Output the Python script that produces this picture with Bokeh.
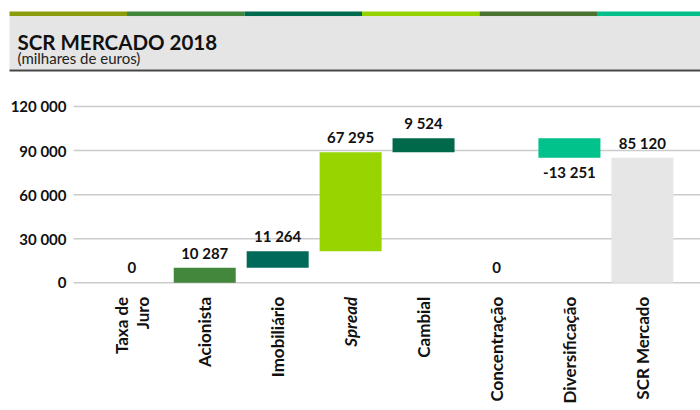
from bokeh.plotting import figure
from bokeh.models import Range1d, ColumnDataSource
from bokeh.core.properties import value
from bokeh.embed import file_html
from bokeh.resources import INLINE
import math

# ---------------- data ----------------
categories = ["Taxa de\nJuro", "Acionista", "Imobiliário", "Spread", "Cambial",
              "Concentração", "Diversificação", "SCR Mercado"]
values = [0, 10287, 11264, 67295, 9524, 0, -13251, 85120]
is_total = [False, False, False, False, False, False, False, True]
value_labels = ["0", "10 287", "11 264", "67 295", "9 524", "0", "-13 251", "85 120"]
category_styles = ["bold", "bold", "bold", "bold italic", "bold", "bold", "bold", "bold"]
bar_colors = ["#43873d", "#43873d", "#006a5a", "#97d400", "#00694a", "#00694a", "#00c28a", "#e6e6e6"]
y_ticks = [0, 30000, 60000, 90000, 120000]
y_tick_labels = ["0", "30 000", "60 000", "90 000", "120 000"]
stripe_colors = ["#8a9c0a", "#43873d", "#006a4e", "#95d200", "#4b7330", "#00bf8a"]
title_text = "SCR MERCADO 2018"
subtitle_text = "(milhares de euros)"

FONT = "Lato"
W, H = 700, 410

# ---------------- waterfall geometry ----------------
bottoms, tops = [], []
running = 0
for v, tot in zip(values, is_total):
    if tot:
        b, t = 0, v
    elif v == 0:
        b, t = 0, 0
    else:
        b, t = running, running + v
        running += v
    bottoms.append(min(b, t))
    tops.append(max(b, t))

xs = list(range(len(categories)))
bar_src = ColumnDataSource(dict(x=xs, bottom=bottoms, top=tops, color=bar_colors))

pos_idx = [i for i, v in enumerate(values) if v >= 0]
neg_idx = [i for i, v in enumerate(values) if v < 0]
pos_src = ColumnDataSource(dict(x=[xs[i] for i in pos_idx], y=[tops[i] for i in pos_idx],
                                text=[value_labels[i] for i in pos_idx]))
neg_src = ColumnDataSource(dict(x=[xs[i] for i in neg_idx], y=[bottoms[i] for i in neg_idx],
                                text=[value_labels[i] for i in neg_idx]))
cat_src = ColumnDataSource(dict(x=xs, y=[0] * len(xs), text=categories, style=category_styles))

# ---------------- figure ----------------
upp = 680.5          # data units per pixel (vertical)
zero_px = 282.3      # zero line, pixels from top of figure
p = figure(width=W, height=H,
           x_range=Range1d(-1.800, 7.797),
           y_range=Range1d(-(H - zero_px) * upp, zero_px * upp),
           x_axis_location=None, y_axis_location=None, toolbar_location=None,
           output_backend="svg", min_border=0, outline_line_color=None)
p.grid.visible = False
# pixel-space ranges for the header and axis decoration
p.extra_x_ranges = {"px": Range1d(0, W)}
p.extra_y_ranges = {"py": Range1d(H, 0)}

# header
n = len(stripe_colors)
sw = 117.5
p.quad(left=[9 + i * sw for i in range(n)], right=[9 + (i + 1) * sw for i in range(n)],
       top=[11] * n, bottom=[15.7] * n, fill_color=stripe_colors, line_color=None,
       x_range_name="px", y_range_name="py")
p.quad(left=[9], right=[W], top=[15.7], bottom=[69], fill_color="#e5e5e5", line_color=None,
       x_range_name="px", y_range_name="py")
p.quad(left=[9], right=[W], top=[69], bottom=[71], fill_color="#454545", line_color=None,
       x_range_name="px", y_range_name="py")
p.text(x=[17], y=[41.7], text=[title_text], text_font=value(FONT), text_font_style="bold",
       text_font_size="20.5px", text_color="#111111", text_baseline="alphabetic",
       x_range_name="px", y_range_name="py")
p.text(x=[17], y=[57.5], text=[subtitle_text], text_font=value(FONT), text_font_style="normal",
       text_font_size="15px", text_color="#222222", text_baseline="alphabetic",
       x_range_name="px", y_range_name="py")

# gridlines and y tick labels
nt = len(y_ticks)
p.segment(x0=[73] * nt, x1=[W] * nt, y0=y_ticks, y1=y_ticks, line_color="#cccccc",
          line_width=1.5, x_range_name="px")
p.text(x=[66] * nt, y=y_ticks, text=y_tick_labels, text_font=value(FONT),
       text_font_style="bold", text_font_size="15px", text_color="#111111",
       text_align="right", text_baseline="middle", x_range_name="px")

# bars
p.vbar(x="x", bottom="bottom", top="top", width=0.85, fill_color="color",
       line_color=None, source=bar_src)

# value labels
p.text(x="x", y="y", text="text", source=pos_src, text_font=value(FONT),
       text_font_style="bold", text_font_size="15px", text_color="#111111",
       text_align="center", text_baseline="alphabetic", y_offset=-15)
p.text(x="x", y="y", text="text", source=neg_src, text_font=value(FONT),
       text_font_style="bold", text_font_size="15px", text_color="#111111",
       text_align="center", text_baseline="top", y_offset=5)

# category labels
p.text(x="x", y="y", text="text", source=cat_src,
       text_font=value(FONT), text_font_style="style", text_font_size="17px",
       text_color="#111111", angle=math.pi / 2, text_align="right",
       text_baseline="middle", y_offset=14, text_line_height=1.0)

open("out.html", "w").write(file_html(p, INLINE))
